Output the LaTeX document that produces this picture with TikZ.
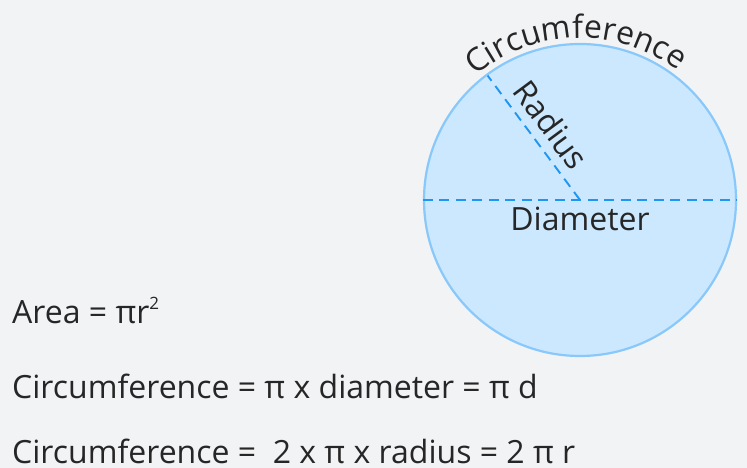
\documentclass[tikz,border=0pt]{standalone}
\usepackage{fontspec}
\setmainfont{Open Sans}
\usetikzlibrary{calc,decorations.text}
\definecolor{bg}{HTML}{F2F3F5}
\definecolor{cfill}{HTML}{CCE8FE}
\definecolor{cline}{HTML}{88C8FA}
\definecolor{dline}{HTML}{1E96F2}
\definecolor{txt}{HTML}{262626}
\newcommand{\bigtxt}{\fontsize{32}{38}\selectfont}
\newcommand{\mysup}[1]{\raisebox{14pt}{\fontsize{17}{17}\selectfont #1}}
\tikzset{
  lbl/.style={text=txt, font=\bigtxt, inner sep=0pt},
  formula/.style={lbl, anchor=base west},
  dashline/.style={draw=dline, line width=1.9pt, dash pattern=on 10pt off 6.5pt},
}
\begin{document}
\begin{tikzpicture}[x=1pt,y=1pt]
\fill[bg] (0,0) rectangle (747,468);
\useasboundingbox (0,0) rectangle (747,468);
\node[circle, minimum size=312pt, inner sep=0pt, fill=cfill, draw=cline, line width=2.2pt] (C) at (580,268) {};
\draw[dashline] (C.west) -- (C.east);
\coordinate (R) at ([shift={(126.6:155pt)}]C.center);
\draw[dashline] (C.center) -- (R);
\node[lbl, anchor=base] (diam) at (580,237.3) {Diameter};
\node[lbl, anchor=base, rotate=-53.4] (rad) at ($(C.center)!0.5!(R) + (36.6:10pt)$) {Radius};
\path[decorate, decoration={text along path, text={|\bigtxt\color{txt}|Circumference}, text align=center}]
  ([shift={(151.5:162pt)}]C.center) arc[start angle=151.5, end angle=31.5, radius=162pt];
\node[formula] (area) at (12,144.7) {Area = πr\mysup{2}};
\node[formula] (circ1) at (12,69) {Circumference = π x diameter = π d};
\node[formula] (circ2) at (12,4) {Circumference = \ 2 x π x radius = 2 π r};
\end{tikzpicture}
\end{document}
